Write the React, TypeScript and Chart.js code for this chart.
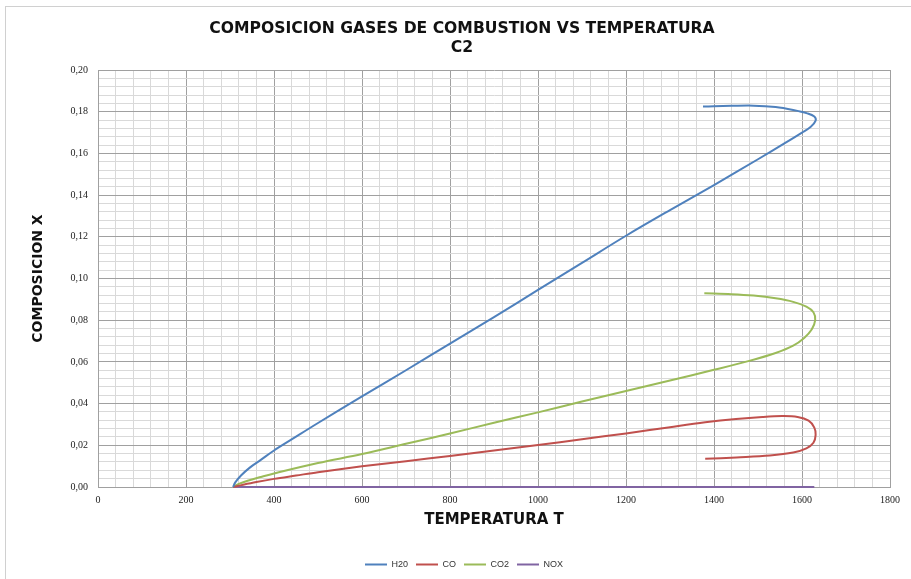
import React, { useEffect, useRef } from "react";
import { Chart, registerables } from "chart.js";

Chart.register(...registerables);

const TITLE_LINES = ["COMPOSICION GASES DE COMBUSTION VS TEMPERATURA", "C2"];
const X_TITLE = "TEMPERATURA T";
const Y_TITLE = "COMPOSICION X";
const SERIES_NAMES = ["H20", "CO", "CO2", "NOX"];
const SERIES_COLORS = ["#4F81BD", "#C0504D", "#9BBB59", "#8064A2"];

// H2O
const h2oT = [307, 312, 325, 345, 370, 400, 440, 500, 600, 700, 800, 900, 1000, 1100, 1200, 1300, 1400, 1500, 1560, 1600, 1620, 1631, 1628, 1612, 1580, 1540, 1490, 1440, 1400, 1375];
const h2oX = [0, 0.0022, 0.0055, 0.0093, 0.013, 0.0175, 0.0228, 0.0307, 0.0435, 0.056, 0.0688, 0.0815, 0.0945, 0.1075, 0.1205, 0.1328, 0.1448, 0.1572, 0.1648, 0.17, 0.1728, 0.1757, 0.1777, 0.1792, 0.1808, 0.1822, 0.1829, 0.1828, 0.1826, 0.1825];

// CO
const coT = [307, 330, 360, 400, 450, 500, 600, 700, 800, 900, 1000, 1100, 1200, 1300, 1380, 1450, 1510, 1555, 1590, 1615, 1628, 1631, 1626, 1610, 1580, 1527, 1451, 1380];
const coX = [0, 0.0011, 0.0024, 0.0039, 0.0055, 0.0071, 0.0099, 0.0124, 0.0149, 0.0175, 0.0201, 0.0229, 0.0257, 0.0287, 0.031, 0.0326, 0.0336, 0.034, 0.0336, 0.0318, 0.0285, 0.025, 0.0212, 0.0185, 0.0165, 0.0151, 0.0142, 0.0135];

// CO2
const co2T = [307, 320, 340, 370, 400, 500, 600, 700, 800, 900, 1000, 1100, 1200, 1300, 1400, 1480, 1540, 1580, 1605, 1622, 1630, 1626, 1610, 1580, 1540, 1490, 1440, 1378];
const co2X = [0, 0.0015, 0.003, 0.0048, 0.0065, 0.0115, 0.0158, 0.0207, 0.0257, 0.0308, 0.0358, 0.041, 0.046, 0.0511, 0.0562, 0.0605, 0.0643, 0.0678, 0.0715, 0.0755, 0.08, 0.0838, 0.0865, 0.0888, 0.0905, 0.0918, 0.0925, 0.0929];

// NOX
const noxT = [307, 600, 1000, 1400, 1628];
const noxX = [0, 0, 0, 0, 0];

const X_MIN = 0, X_MAX = 1800, X_MINOR = 40, X_MAJOR = 200;
const Y_MIN = 0, Y_MAX = 0.2, Y_MINOR = 0.004, Y_MAJOR = 0.02;

const toPoints = (t: number[], v: number[]) => t.map((x, i) => ({ x, y: v[i] }));
const isMultiple = (v: number, step: number) => Math.abs(v / step - Math.round(v / step)) < 1e-6;

const blockShift = {
  id: "blockShift",
  afterLayout(chart: any) {
    if (chart.legend) {
      chart.legend.left += 19;
      chart.legend.right += 19;
    }
    if (chart.titleBlock) {
      chart.titleBlock.left += 17;
      chart.titleBlock.right += 17;
    }
  },
};

export default function App() {
  const ref = useRef<HTMLCanvasElement | null>(null);
  useEffect(() => {
    document.body.style.margin = "0";
    const series = [
      toPoints(h2oT, h2oX),
      toPoints(coT, coX),
      toPoints(co2T, co2X),
      toPoints(noxT, noxX),
    ];
    const chart = new Chart(ref.current!, {
      type: "scatter",
      data: {
        datasets: series.map((pts, i) => ({
          label: SERIES_NAMES[i],
          data: pts,
          showLine: true,
          borderColor: SERIES_COLORS[i],
          backgroundColor: SERIES_COLORS[i],
          borderWidth: 2,
          pointRadius: 0,
          tension: 0.35,
          clip: 4,
        })),
      },
      plugins: [blockShift],
      options: {
        animation: false,
        responsive: true,
        maintainAspectRatio: false,
        layout: { padding: { left: 0, right: 21, top: 0, bottom: 0 } },
        plugins: {
          tooltip: { enabled: false },
          title: {
            display: true,
            text: TITLE_LINES,
            color: "#111",
            font: { family: "'DejaVu Sans'", size: 15.6, weight: "bold", lineHeight: 19 / 15.6 },
            padding: { top: 19.5, bottom: 12.5 },
          },
          legend: {
            display: true,
            position: "bottom",
            labels: {
              usePointStyle: true,
              pointStyle: "line",
              pointStyleWidth: 22,
              color: "#333",
              font: { family: "'Liberation Sans'", size: 9 },
              padding: 8,
            },
          },
        },
        scales: {
          x: {
            type: "linear",
            min: X_MIN,
            max: X_MAX,
            afterFit: (s: any) => { s.height = 65; },
            ticks: {
              stepSize: X_MINOR,
              autoSkip: false,
              maxRotation: 0,
              padding: 7,
              color: "#222",
              font: { family: "'Liberation Serif'", size: 10 },
              callback: (v: any) => (isMultiple(Number(v), X_MAJOR) ? String(Math.round(Number(v))) : ""),
            },
            grid: {
              drawTicks: false,
              color: (c: any) => (c.tick && isMultiple(c.tick.value, X_MAJOR) ? "#a0a0a0" : "#d9d9d9"),
              lineWidth: 1,
            },
            border: { color: "#a0a0a0" },
            title: {
              display: true,
              text: X_TITLE,
              color: "#111",
              font: { family: "'DejaVu Sans'", size: 15, weight: "bold", lineHeight: 1.2 },
              padding: { top: 0, bottom: 23 },
            },
          },
          y: {
            type: "linear",
            min: Y_MIN,
            max: Y_MAX,
            afterFit: (s: any) => { s.width = 98; },
            ticks: {
              stepSize: Y_MINOR,
              autoSkip: false,
              padding: 10,
              color: "#222",
              font: { family: "'Liberation Serif'", size: 10 },
              callback: (v: any) => (isMultiple(Number(v), Y_MAJOR) ? Number(v).toFixed(2).replace(".", ",") : ""),
            },
            grid: {
              drawTicks: false,
              color: (c: any) => (c.tick && isMultiple(c.tick.value, Y_MAJOR) ? "#a0a0a0" : "#d9d9d9"),
              lineWidth: 1,
            },
            border: { color: "#a0a0a0" },
            title: {
              display: true,
              text: Y_TITLE,
              color: "#111",
              font: { family: "'DejaVu Sans'", size: 14, weight: "bold", lineHeight: 1.2 },
              padding: { top: 29.6, bottom: 0 },
            },
          },
        },
      },
    });
    return () => chart.destroy();
  }, []);
  return (
    <div style={{ position: "relative", width: 911, height: 579, overflow: "hidden", background: "#fff" }}>
      <div style={{ position: "absolute", left: 5, top: 6, width: 930, height: 600, border: "1px solid #d0d0d0", boxSizing: "border-box" }} />
      <canvas ref={ref} />
    </div>
  );
}
